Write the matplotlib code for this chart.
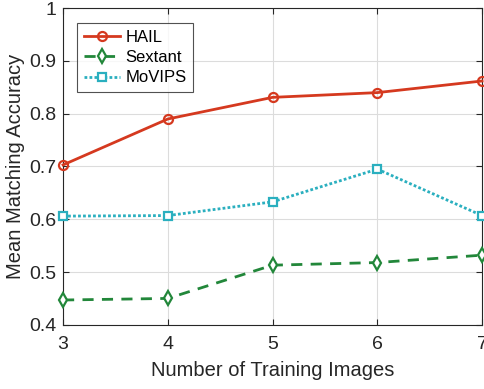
import matplotlib
matplotlib.use("Agg")
import matplotlib.pyplot as plt

plt.rcParams['font.family'] = ['Liberation Sans', 'DejaVu Sans']

num_images = [3, 4, 5, 6, 7]
hail = [0.703, 0.790, 0.831, 0.840, 0.862]
sextant = [0.447, 0.450, 0.513, 0.518, 0.532]
movips = [0.606, 0.607, 0.633, 0.695, 0.607]

fig = plt.figure(figsize=(4.85, 3.89), dpi=100)
ax = fig.add_axes([0.130, 0.165, 0.864, 0.814])

ax.plot(num_images, hail, color='#D5391F', lw=2.0, marker='o', ms=6.5,
        mfc='none', mew=1.6, label='HAIL', clip_on=False, zorder=3)
ax.plot(num_images, sextant, color='#22873A', lw=2.0, ls=(0, (4, 3)), marker='d',
        ms=7, mfc='white', mew=1.6, label='Sextant', clip_on=False, zorder=3)
ax.plot(num_images, movips, color='#2AAFBF', lw=2.0, ls=(0, (1, 0.8)), marker='s',
        ms=5.5, mfc='white', mew=1.6, label='MoVIPS', clip_on=False, zorder=3)

ax.set_xlim(3, 7)
ax.set_ylim(0.4, 1.0)
ax.set_xticks(num_images)
ax.set_yticks([0.4, 0.5, 0.6, 0.7, 0.8, 0.9, 1.0])
ax.set_yticklabels(['0.4', '0.5', '0.6', '0.7', '0.8', '0.9', '1'])
ax.grid(True, color='#DCDCDC', lw=0.8)
ax.set_axisbelow(True)
ax.tick_params(direction='in', length=4, width=0.8, labelsize=14, colors='#262626',
               top=True, right=True)
ax.tick_params(axis='x', pad=8)
ax.tick_params(axis='y', pad=5)
for s in ax.spines.values():
    s.set_color('#262626')
    s.set_linewidth(0.8)

ax.set_xlabel('Number of Training Images', fontsize=14.5, color='#262626', labelpad=6)
ax.set_ylabel('Mean Matching Accuracy', fontsize=14.5, color='#262626', labelpad=3)

leg = ax.legend(loc='upper left', bbox_to_anchor=(0.033, 0.953), fontsize=12,
                frameon=True, fancybox=False, edgecolor='#262626', handlelength=2.2,
                handletextpad=0.3, borderpad=0.4, labelspacing=0.32, borderaxespad=0)
leg.get_frame().set_linewidth(0.8)

fig.savefig('out.png', dpi=100)
